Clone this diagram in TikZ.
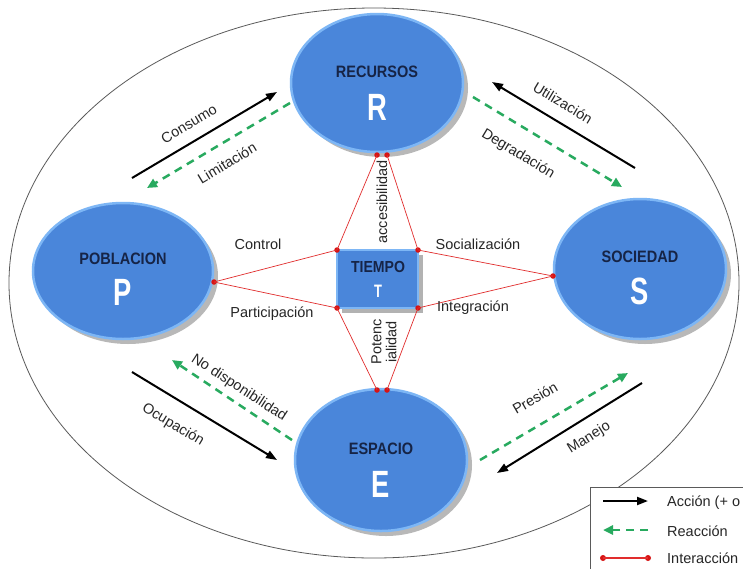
\documentclass[tikz,border=0pt]{standalone}
\usepackage{fontspec}
\setmainfont{Liberation Sans}
\newfontfamily\ttlfont[FakeStretch=0.88]{Liberation Sans}
\newfontfamily\bigfont[FakeStretch=0.72]{Liberation Sans}
\usetikzlibrary{arrows.meta,shapes.geometric,shadows}
\definecolor{nodeblue}{RGB}{74,134,218}
\definecolor{rimblue}{RGB}{125,182,245}
\definecolor{navy}{RGB}{22,36,70}
\definecolor{accgreen}{RGB}{40,170,95}
\definecolor{intred}{RGB}{225,45,45}
\definecolor{dotred}{RGB}{215,20,20}
\definecolor{framegray}{RGB}{90,90,90}
\tikzset{
  bubble/.style={ellipse, fill=nodeblue, draw=rimblue, line width=2.5pt, inner sep=0pt,
    minimum width=172pt, minimum height=138pt,
    drop shadow={shadow xshift=5pt, shadow yshift=-5pt, opacity=0.28, fill=black}},
  timebox/.style={rectangle, fill=nodeblue, draw=rimblue, line width=1.5pt, inner sep=0pt,
    minimum width=81pt, minimum height=58pt,
    drop shadow={shadow xshift=5pt, shadow yshift=-5pt, opacity=0.3, fill=black}},
  ttl/.style={font=\ttlfont\bfseries\fontsize{16.5}{18}\selectfont, text=navy, inner sep=0pt},
  letter/.style={font=\bigfont\bfseries\fontsize{38}{40}\selectfont, text=white, inner sep=0pt},
  lbl/.style={font=\fontsize{14.5}{16}\selectfont, text=black!85, inner sep=0pt},
  slbl/.style={font=\fontsize{14.5}{16}\selectfont, text=black!85, inner sep=0pt},
  vlbl/.style={font=\fontsize{14.5}{15}\selectfont, text=black!85, inner sep=0pt, rotate=90, align=center},
  dot/.style={circle, fill=dotred, inner sep=0pt, minimum size=5.5pt},
  redline/.style={draw=intred, line width=0.7pt},
  action/.style={draw=black, line width=2pt, -{Triangle[length=11pt,width=8pt]}},
  reaction/.style={draw=accgreen, line width=2.5pt, dash pattern=on 8pt off 6pt, -{Triangle[length=10pt,width=9pt]}},
}
\begin{document}
\begin{tikzpicture}[x=1pt,y=-1pt]
\useasboundingbox (0,0) rectangle (743,568);
\fill[white] (0,0) rectangle (743,568);
% outer frame
\draw[framegray, line width=0.8pt] (374,283) ellipse [x radius=365, y radius=275];

% main nodes
\node[bubble] (R) at (377,83) {};
\node[bubble, minimum width=180pt, minimum height=136pt] (P) at (123,271) {};
\node[bubble, minimum height=140pt] (S) at (640,269) {};
\node[bubble, minimum height=142pt] (E) at (381,460) {};
\node[timebox] (T) at (377.5,279) {};

\node[ttl] (Rt) at ([yshift=11pt]R.center) {RECURSOS};
\node[letter] (Rl) at ([yshift=-24pt]R.center) {R};
\node[ttl] (Pt) at ([yshift=12pt]P.center) {POBLACION};
\node[letter] (Pl) at ([yshift=-21pt]P.center) {P};
\node[ttl] (St) at ([yshift=12pt]S.center) {SOCIEDAD};
\node[letter] (Sl) at ([yshift=-22pt]S.center) {S};
\node[ttl] (Et) at ([yshift=11pt]E.center) {ESPACIO};
\node[letter] (El) at ([yshift=-24pt]E.center) {E};
\node[ttl, font=\ttlfont\bfseries\fontsize{16}{18}\selectfont] (Tt) at (378,267) {TIEMPO};
\node[letter, font=\bigfont\bfseries\fontsize{18}{20}\selectfont] (Tl) at (378,291) {T};

% interaction points
\node[dot] (pd) at (214,282) {};
\node[dot] (sd) at (553,276) {};
\node[dot] (rd1) at (377,155) {};
\node[dot] (rd2) at (387,155) {};
\node[dot] (ed1) at (377,390) {};
\node[dot] (ed2) at (387,390) {};
\node[dot] (tl) at (337,250) {};
\node[dot] (tr) at (418,250) {};
\node[dot] (bl) at (337,308) {};
\node[dot] (br) at (418,308) {};

\draw[redline] (pd.center) -- (tl.center);
\draw[redline] (pd.center) -- (bl.center);
\draw[redline] (sd.center) -- (tr.center);
\draw[redline] (sd.center) -- (br.center);
\draw[redline] (rd1.center) -- (tl.center);
\draw[redline] (rd2.center) -- (tr.center);
\draw[redline] (ed1.center) -- (bl.center);
\draw[redline] (ed2.center) -- (br.center);

\node[lbl] (lc) at (258,244) {Control};
\node[lbl] (lp) at (272,314) {Participación};
\node[lbl] (ls) at (478,244) {Socialización};
\node[lbl] (li) at (473,308) {Integración};
\node[vlbl] (la) at (382,202) {accesibilidad};
\node[vlbl] (lpo) at (384,342) {Potenc\\ialidad};

% action / reaction arrows
\coordinate (a1s) at (132,178); \coordinate (a1e) at (277,92);
\coordinate (b1s) at (290,103); \coordinate (b1e) at (147,188);
\coordinate (a2s) at (635,168); \coordinate (a2e) at (492,82);
\coordinate (b2s) at (473,97);  \coordinate (b2e) at (622,187);
\coordinate (a3s) at (132,372); \coordinate (a3e) at (277,460);
\coordinate (b3s) at (292,440); \coordinate (b3e) at (172,360);
\coordinate (a4s) at (642,383); \coordinate (a4e) at (497,473);
\coordinate (b4s) at (480,460); \coordinate (b4e) at (628,373);

\draw[action] (a1s) -- (a1e);
\draw[reaction] (b1s) -- (b1e);
\draw[action] (a2s) -- (a2e);
\draw[reaction] (b2s) -- (b2e);
\draw[action] (a3s) -- (a3e);
\draw[reaction] (b3s) -- (b3e);
\draw[action] (a4s) -- (a4e);
\draw[reaction] (b4s) -- (b4e);

\node[slbl, rotate=31] (lcons) at (189,124) {Consumo};
\node[slbl, rotate=31] (llim) at (227,163) {Limitación};
\node[slbl, rotate=-31] (luti) at (563,103) {Utilización};
\node[slbl, rotate=-31] (ldeg) at (518,154) {Degradación};
\node[slbl, rotate=-33] (lnod) at (239,388) {No disponibilidad};
\node[slbl, rotate=-31] (locu) at (173,425) {Ocupación};
\node[slbl, rotate=30] (lpre) at (535,398) {Presión};
\node[slbl, rotate=32] (lman) at (589,438) {Manejo};

% legend
\node[draw=framegray, fill=white, line width=0.8pt, minimum width=160pt, minimum height=85pt, inner sep=0pt, anchor=north west] (leg) at (590,487) {};
\coordinate (k1s) at (603,501); \coordinate (k1e) at (648,501);
\coordinate (k2s) at (648,530); \coordinate (k2e) at (603,530);
\node[dot, minimum size=6pt] (k3s) at (603,558) {};
\node[dot, minimum size=6pt] (k3e) at (648,558) {};
\draw[action] (k1s) -- (k1e);
\draw[reaction] (k2s) -- (k2e);
\draw[draw=intred, line width=2pt] (k3s.center) -- (k3e.center);
\node[lbl, anchor=west] (kt1) at (667,503) {Acción (+ o};
\node[lbl, anchor=west] (kt2) at (667,531) {Reacción};
\node[lbl, anchor=west] (kt3) at (667,558) {Interacción};
\end{tikzpicture}
\end{document}
